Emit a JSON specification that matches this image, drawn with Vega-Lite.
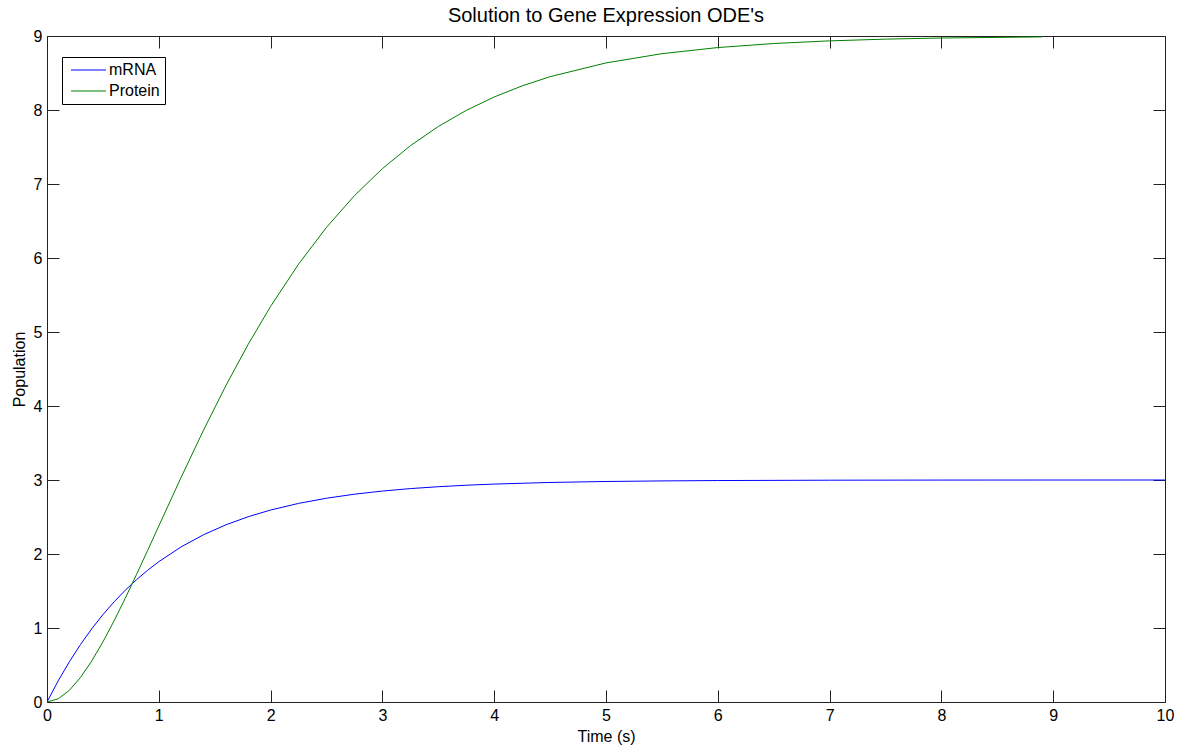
{
  "$schema": "https://vega.github.io/schema/vega-lite/v6.json",
  "width": 1118,
  "height": 666,
  "autosize": {"type": "none"},
  "padding": {"left": 47, "top": 36, "right": 14, "bottom": 49},
  "background": "white",
  "config": {
    "font": "Liberation Sans",
    "view": {"stroke": null}
  },
  "title": {"text": "Solution to Gene Expression ODE's", "fontSize": 20, "font": "Liberation Sans", "fontWeight": "normal", "color": "#000", "anchor": "middle", "offset": 2},
  "data": {"values": [
    {"t": 0, "series": "mRNA", "value": 0},
    {"t": 0.1, "series": "mRNA", "value": 0.2855},
    {"t": 0.2, "series": "mRNA", "value": 0.5438},
    {"t": 0.3, "series": "mRNA", "value": 0.7775},
    {"t": 0.4, "series": "mRNA", "value": 0.989},
    {"t": 0.5, "series": "mRNA", "value": 1.1804},
    {"t": 0.6, "series": "mRNA", "value": 1.3536},
    {"t": 0.7, "series": "mRNA", "value": 1.5102},
    {"t": 0.8, "series": "mRNA", "value": 1.652},
    {"t": 0.9, "series": "mRNA", "value": 1.7803},
    {"t": 1.0, "series": "mRNA", "value": 1.8964},
    {"t": 1.2, "series": "mRNA", "value": 2.0964},
    {"t": 1.4, "series": "mRNA", "value": 2.2602},
    {"t": 1.6, "series": "mRNA", "value": 2.3943},
    {"t": 1.8, "series": "mRNA", "value": 2.5041},
    {"t": 2.0, "series": "mRNA", "value": 2.594},
    {"t": 2.25, "series": "mRNA", "value": 2.6838},
    {"t": 2.5, "series": "mRNA", "value": 2.7537},
    {"t": 2.75, "series": "mRNA", "value": 2.8082},
    {"t": 3.0, "series": "mRNA", "value": 2.8506},
    {"t": 3.25, "series": "mRNA", "value": 2.8837},
    {"t": 3.5, "series": "mRNA", "value": 2.9094},
    {"t": 3.75, "series": "mRNA", "value": 2.9294},
    {"t": 4.0, "series": "mRNA", "value": 2.9451},
    {"t": 4.5, "series": "mRNA", "value": 2.9667},
    {"t": 5.0, "series": "mRNA", "value": 2.9798},
    {"t": 5.5, "series": "mRNA", "value": 2.9877},
    {"t": 6.0, "series": "mRNA", "value": 2.9926},
    {"t": 7.0, "series": "mRNA", "value": 2.9973},
    {"t": 8.0, "series": "mRNA", "value": 2.999},
    {"t": 9.0, "series": "mRNA", "value": 2.9996},
    {"t": 10.0, "series": "mRNA", "value": 2.9999},
    {"t": 0, "series": "Protein", "value": 0},
    {"t": 0.1, "series": "Protein", "value": 0.0421},
    {"t": 0.2, "series": "Protein", "value": 0.1577},
    {"t": 0.3, "series": "Protein", "value": 0.3324},
    {"t": 0.4, "series": "Protein", "value": 0.554},
    {"t": 0.5, "series": "Protein", "value": 0.8118},
    {"t": 0.6, "series": "Protein", "value": 1.0971},
    {"t": 0.7, "series": "Protein", "value": 1.4022},
    {"t": 0.8, "series": "Protein", "value": 1.7209},
    {"t": 0.9, "series": "Protein", "value": 2.0477},
    {"t": 1.0, "series": "Protein", "value": 2.3782},
    {"t": 1.2, "series": "Protein", "value": 3.0364},
    {"t": 1.4, "series": "Protein", "value": 3.6735},
    {"t": 1.6, "series": "Protein", "value": 4.2756},
    {"t": 1.8, "series": "Protein", "value": 4.8345},
    {"t": 2.0, "series": "Protein", "value": 5.3459},
    {"t": 2.25, "series": "Protein", "value": 5.9171},
    {"t": 2.5, "series": "Protein", "value": 6.4143},
    {"t": 2.75, "series": "Protein", "value": 6.8424},
    {"t": 3.0, "series": "Protein", "value": 7.2077},
    {"t": 3.25, "series": "Protein", "value": 7.5169},
    {"t": 3.5, "series": "Protein", "value": 7.777},
    {"t": 3.75, "series": "Protein", "value": 7.9946},
    {"t": 4.0, "series": "Protein", "value": 8.1758},
    {"t": 4.25, "series": "Protein", "value": 8.326},
    {"t": 4.5, "series": "Protein", "value": 8.4501},
    {"t": 5.0, "series": "Protein", "value": 8.6362},
    {"t": 5.5, "series": "Protein", "value": 8.7609},
    {"t": 6.0, "series": "Protein", "value": 8.8438},
    {"t": 6.5, "series": "Protein", "value": 8.8985},
    {"t": 7.0, "series": "Protein", "value": 8.9343},
    {"t": 7.5, "series": "Protein", "value": 8.9577},
    {"t": 8.0, "series": "Protein", "value": 8.9728},
    {"t": 8.9, "series": "Protein", "value": 8.9878}
  ]},
  "layer": [
    {
      "mark": {"type": "line", "strokeWidth": 1, "clip": true},
      "encoding": {
        "x": {"field": "t", "type": "quantitative", "scale": {"domain": [0, 10], "nice": false, "zero": false},
          "axis": {"orient": "bottom", "title": "Time (s)", "values": [0,1,2,3,4,5,6,7,8,9,10], "grid": false, "domainColor": "#222", "tickColor": "#222", "tickSize": -12, "labelPadding": 17, "labelFontSize": 16, "labelColor": "#000", "labelFont": "Liberation Sans", "labelFlush": false, "titleFontSize": 16, "titleFont": "Liberation Sans", "titleFontWeight": "normal", "titleColor": "#000", "titlePadding": 5}},
        "y": {"field": "value", "type": "quantitative", "scale": {"domain": [0, 9], "nice": false},
          "axis": {"orient": "left", "title": "Population", "values": [0,1,2,3,4,5,6,7,8,9], "grid": false, "domainColor": "#222", "tickColor": "#222", "tickSize": -12, "labelPadding": 17, "labelFontSize": 16, "labelColor": "#000", "labelFont": "Liberation Sans", "labelFlush": false, "titleFontSize": 16, "titleFont": "Liberation Sans", "titleFontWeight": "normal", "titleColor": "#000", "titlePadding": 6}},
        "color": {"field": "series", "type": "nominal", "sort": ["mRNA", "Protein"],
          "scale": {"domain": ["mRNA", "Protein"], "range": ["#0000ff", "#008000"]},
          "legend": {"title": null, "orient": "none", "legendX": 15, "legendY": 21, "direction": "vertical", "strokeColor": "#000", "fillColor": "#fff", "padding": 5, "symbolType": "M-0.6667,0H5.1667", "symbolSize": 144, "symbolStrokeWidth": 1, "labelFontSize": 16, "labelFont": "Liberation Sans", "labelColor": "#000", "labelOffset": 26, "rowPadding": 5, "cornerRadius": 0}}
      }
    },
    {
      "mark": {"type": "line", "opacity": 0},
      "encoding": {
        "x": {"field": "t", "type": "quantitative", "scale": {"domain": [0, 10], "nice": false, "zero": false},
          "axis": {"orient": "top", "title": null, "values": [0,1,2,3,4,5,6,7,8,9,10], "grid": false, "labels": false, "domainColor": "#222", "tickColor": "#222", "tickSize": -12}},
        "y": {"field": "value", "type": "quantitative", "scale": {"domain": [0, 9], "nice": false},
          "axis": {"orient": "right", "title": null, "values": [0,1,2,3,4,5,6,7,8,9], "grid": false, "labels": false, "domainColor": "#222", "tickColor": "#222", "tickSize": -12}},
        "detail": {"field": "series"}
      }
    }
  ],
  "resolve": {"axis": {"x": "independent", "y": "independent"}}
}
